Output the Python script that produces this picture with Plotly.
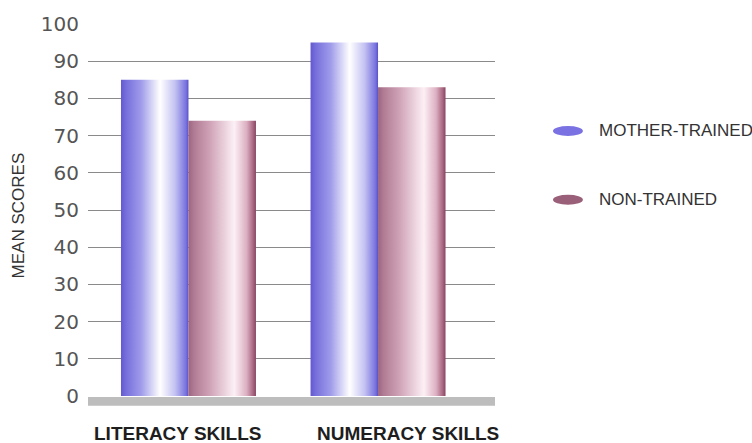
import plotly.graph_objects as go

# Chart data
categories = ["LITERACY SKILLS", "NUMERACY SKILLS"]
groups = ["MOTHER-TRAINED", "NON-TRAINED"]
mother_trained = [85, 95]
non_trained = [74, 83]
y_ticks = [0, 10, 20, 30, 40, 50, 60, 70, 80, 90, 100]

# Cylinder-like shading for each group
shades = {
    "MOTHER-TRAINED": [[0.0, "#6259cf"], [0.08, "#7770dc"], [0.3, "#a09cea"],
                       [0.58, "#ffffff"], [0.8, "#c4c2f2"], [0.96, "#7a74df"],
                       [1.0, "#5a52c8"]],
    "NON-TRAINED": [[0.0, "#9c6480"], [0.08, "#b07b94"], [0.32, "#d0a3b7"],
                    [0.68, "#fcf0f5"], [0.86, "#dcb0c2"], [0.96, "#a7647f"],
                    [1.0, "#874562"]],
}
legend_colors = {"MOTHER-TRAINED": "#7a72e2", "NON-TRAINED": "#9a6079"}

bar_w = 0.356
series = {"MOTHER-TRAINED": mother_trained, "NON-TRAINED": non_trained}

fig = go.Figure()
for gi, name in enumerate(groups):
    for ci, val in enumerate(series[name]):
        left = ci - bar_w + gi * bar_w
        right = left + bar_w
        fig.add_trace(go.Scatter(
            x=[left, right, right, left, left],
            y=[0, 0, val, val, 0],
            mode="lines",
            line=dict(width=0),
            fill="toself",
            fillgradient=dict(type="horizontal", colorscale=shades[name]),
            name=name,
            showlegend=False,
            hoverinfo="skip",
        ))

plot_h = 443 - 17 - 47
shapes = [
    # grey floor band just under the baseline
    dict(type="rect", xref="paper", yref="paper", x0=0, x1=1,
         y0=-10 / plot_h, y1=-1 / plot_h, fillcolor="#bdbdbd",
         line=dict(width=0), layer="above"),
]
annotations = []

# legend: ellipse swatches with labels
legend_y = [(396 - 126) / plot_h, (396 - 196) / plot_h]
for name, yc in zip(groups, legend_y):
    shapes.append(dict(type="circle", xref="paper", yref="paper",
                       x0=1.1425, x1=1.216, y0=yc - 0.0135, y1=yc + 0.0135,
                       fillcolor=legend_colors[name], line=dict(width=0)))
    annotations.append(dict(text=name, xref="paper", yref="paper",
                            x=1.2506, y=yc, xanchor="left", yanchor="middle",
                            showarrow=False,
                            font=dict(family="Liberation Sans", size=17, color="#333333")))

# category labels
for cat, xp in zip(categories, [0.221, 0.786]):
    annotations.append(dict(text=f"<b>{cat}</b>", xref="paper", yref="paper",
                            x=xp, y=(396 - 434) / plot_h,
                            xanchor="center", yanchor="middle",
                            showarrow=False,
                            font=dict(family="Liberation Sans", size=19, color="#1e1e1e")))

# y-axis title
annotations.append(dict(text="MEAN SCORES", xref="paper", yref="paper",
                        x=-0.172, y=(396 - 212) / plot_h, textangle=-90,
                        xanchor="center", yanchor="middle", showarrow=False,
                        font=dict(family="Liberation Sans", size=17, color="#333333")))

fig.update_layout(
    width=752, height=443,
    margin=dict(l=88, r=257, t=17, b=47),
    paper_bgcolor="white", plot_bgcolor="white",
    showlegend=False,
    shapes=shapes,
    annotations=annotations,
    xaxis=dict(range=[-0.53, 1.617], showgrid=False, zeroline=False,
               showticklabels=False, showline=False, fixedrange=True),
    yaxis=dict(range=[0, 100], tickvals=y_ticks, showgrid=True,
               gridcolor="#8a8a8a", gridwidth=1, zeroline=False,
               showline=False, ticklabelstandoff=8,
               tickfont=dict(family="DejaVu Sans", size=20, color="#555555"),
               fixedrange=True),
)

fig.write_html("out.html")
